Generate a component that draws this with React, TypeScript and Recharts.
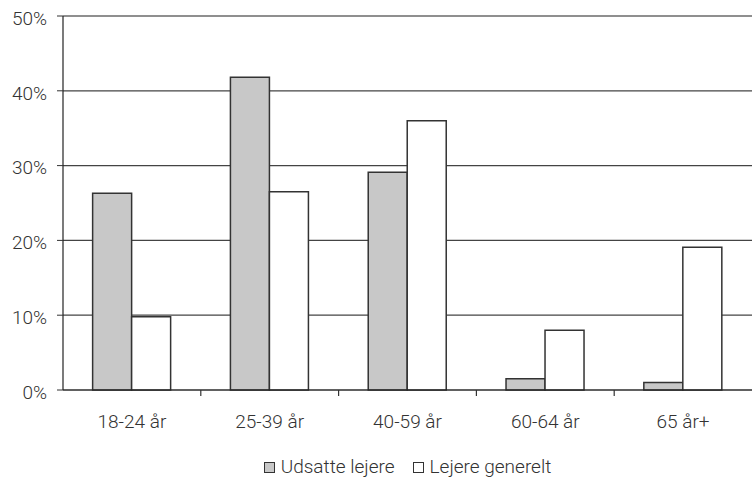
import { Bar, BarChart, CartesianGrid, Legend, ReferenceLine, XAxis, YAxis } from "recharts";

const AGE_GROUPS = ["18-24 år", "25-39 år", "40-59 år", "60-64 år", "65 år+"];
const UDSATTE = [26.3, 41.8, 29.1, 1.5, 1.0];
const GENERELT = [9.8, 26.5, 36.0, 8.0, 19.1];
const Y_TICKS = [0, 10, 20, 30, 40, 50];

const SERIES = [
  { key: "udsatte", label: "Udsatte lejere", fill: "#c8c8c8" },
  { key: "generelt", label: "Lejere generelt", fill: "#ffffff" },
];

const data = AGE_GROUPS.map((age, i) => ({
  age,
  udsatte: UDSATTE[i],
  generelt: GENERELT[i],
}));

const FONT = "Roboto, 'DejaVu Sans', sans-serif";
const INK = "#333";
const FONT_SIZE = 19;

// category label plus a small tick at the right edge of each band
function AgeTick(props: any) {
  const { x, y, payload, index, width, visibleTicksCount } = props;
  const half = width / visibleTicksCount / 2;
  return (
    <g>
      {index < visibleTicksCount - 1 && (
        <line x1={x + half} x2={x + half} y1={y} y2={y + 6} stroke={INK} strokeWidth={1.2} />
      )}
      <text
        x={x}
        y={y + 38}
        textAnchor="middle"
        fontFamily={FONT}
        fontWeight={300}
        fontSize={FONT_SIZE}
        fill={INK}
      >
        {payload.value}
      </text>
    </g>
  );
}

function LegendRow() {
  return (
    <div
      style={{
        paddingLeft: 63,
        paddingTop: 2,
        height: 22,
        textAlign: "center",
        fontFamily: FONT,
        fontWeight: 300,
        fontSize: FONT_SIZE,
        color: INK,
        lineHeight: "22px",
      }}
    >
      {SERIES.map((s) => (
        <span key={s.key} style={{ margin: "0 9px", whiteSpace: "nowrap" }}>
          <span
            style={{
              display: "inline-block",
              width: 9,
              height: 9,
              background: s.fill,
              border: "1px solid #333",
              marginRight: 6,
              verticalAlign: "0px",
            }}
          />
          {s.label}
        </span>
      ))}
    </div>
  );
}

export default function App() {
  return (
    <div style={{ position: "absolute", left: 0, top: 0, background: "#fff" }}>
      <BarChart
        width={752}
        height={478}
        data={data}
        margin={{ top: 16, right: 0, left: 0, bottom: 0 }}
        barCategoryGap="21.5%"
        barGap={0}
      >
        <CartesianGrid vertical={false} stroke="#444" strokeWidth={1.2} />
        <XAxis
          dataKey="age"
          height={64}
          tickLine={false}
          tickSize={0}
          tickMargin={0}
          axisLine={{ stroke: "#222", strokeWidth: 1.2 }}
          tick={<AgeTick />}
          interval={0}
        />
        <YAxis
          width={63}
          domain={[0, 50]}
          ticks={Y_TICKS}
          tickFormatter={(v) => `${v}%`}
          axisLine={{ stroke: "#222", strokeWidth: 1.2 }}
          tickLine={{ stroke: INK }}
          tickSize={6}
          tick={{ fontSize: FONT_SIZE, fill: INK, fontFamily: FONT, fontWeight: 300 }}
          dx={-8}
          dy={2}
        />
        <ReferenceLine y={50} stroke="#8a8a8a" strokeWidth={1.5} />
        {SERIES.map((s) => (
          <Bar
            key={s.key}
            dataKey={s.key}
            name={s.label}
            fill={s.fill}
            stroke="#333"
            strokeWidth={1.5}
            isAnimationActive={false}
          />
        ))}
        <Legend
          verticalAlign="bottom"
          height={24}
          wrapperStyle={{ left: 0, width: 752 }}
          content={() => <LegendRow />}
        />
      </BarChart>
    </div>
  );
}
